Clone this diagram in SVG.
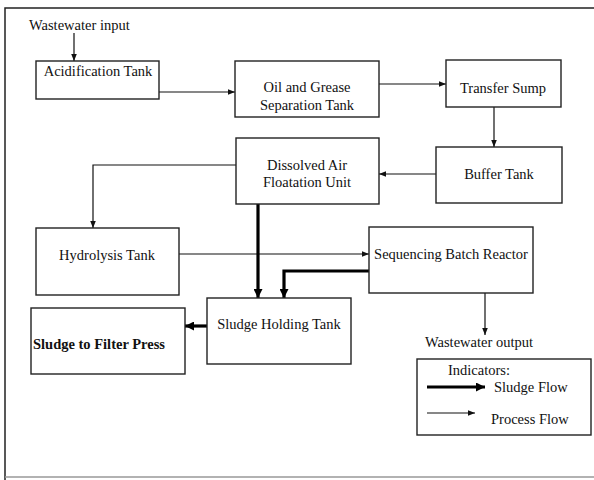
<svg xmlns="http://www.w3.org/2000/svg" width="594" height="480" viewBox="0 0 594 480">
<style>
text{font-family:"Liberation Serif","Times New Roman",serif;font-size:14.5px;fill:#111}
.box{fill:#fff;stroke:#222;stroke-width:1.4}
.thin{fill:none;stroke:#111;stroke-width:1.2}
.thick{fill:none;stroke:#000;stroke-width:3.2}
</style>
<defs>
<marker id="ah" viewBox="0 0 10 10" refX="10" refY="5" markerWidth="9" markerHeight="7" markerUnits="userSpaceOnUse" orient="auto"><path d="M0,1 L10,5 L0,9 Z" fill="#111"/></marker>
<marker id="ahb" viewBox="0 0 10 10" refX="10" refY="5" markerWidth="10" markerHeight="9" markerUnits="userSpaceOnUse" orient="auto"><path d="M0,0 L10,5 L0,10 Z" fill="#000"/></marker>
</defs>
<rect width="594" height="480" fill="#fff"/>
<path d="M594,8 H5 V480" fill="none" stroke="#222" stroke-width="1.5"/>
<line x1="5" y1="477" x2="594" y2="477" stroke="#999" stroke-width="1.5"/>

<g id="connectors">
<line class="thin" x1="74" y1="33" x2="74" y2="61" marker-end="url(#ah)"/>
<line class="thin" x1="159" y1="92" x2="235" y2="92" marker-end="url(#ah)"/>
<line class="thin" x1="379" y1="84" x2="446" y2="84" marker-end="url(#ah)"/>
<line class="thin" x1="494" y1="107" x2="494" y2="147" marker-end="url(#ah)"/>
<line class="thin" x1="436" y1="174" x2="379" y2="174" marker-end="url(#ah)"/>
<polyline class="thin" points="236,165 93,165 93,228" marker-end="url(#ah)"/>
<line class="thin" x1="179" y1="254" x2="369" y2="254" marker-end="url(#ah)"/>
<line class="thin" x1="485" y1="293" x2="485" y2="335" marker-end="url(#ah)"/>
<line class="thick" x1="258" y1="204" x2="258" y2="298" marker-end="url(#ahb)"/>
<polyline class="thick" points="369,271 284,271 284,298" marker-end="url(#ahb)"/>
<line class="thick" x1="207" y1="326" x2="185" y2="326" marker-end="url(#ahb)"/>
</g>

<g id="wastewater-input"><text x="29" y="30">Wastewater input</text></g>
<g id="acidification"><rect class="box" x="36" y="61" width="123" height="38"/><text x="98" y="76" text-anchor="middle">Acidification Tank</text></g>
<g id="oil-grease"><rect class="box" x="235" y="61" width="144" height="56"/><text x="307" y="92" text-anchor="middle">Oil and Grease</text><text x="307" y="110" text-anchor="middle">Separation Tank</text></g>
<g id="transfer-sump"><rect class="box" x="446" y="60" width="115" height="47"/><text x="503" y="93" text-anchor="middle">Transfer Sump</text></g>
<g id="buffer-tank"><rect class="box" x="436" y="147" width="126" height="56"/><text x="499" y="179" text-anchor="middle">Buffer Tank</text></g>
<g id="daf"><rect class="box" x="236" y="138" width="143" height="66"/><text x="307" y="170" text-anchor="middle">Dissolved Air</text><text x="307" y="187" text-anchor="middle">Floatation Unit</text></g>
<g id="hydrolysis"><rect class="box" x="36" y="228" width="143" height="67"/><text x="107" y="260" text-anchor="middle">Hydrolysis Tank</text></g>
<g id="sbr"><rect class="box" x="369" y="227" width="164" height="66"/><text x="451" y="259" text-anchor="middle">Sequencing Batch Reactor</text></g>
<g id="sludge-holding"><rect class="box" x="207" y="298" width="144" height="66"/><text x="279" y="329" text-anchor="middle">Sludge Holding Tank</text></g>
<g id="filter-press"><rect class="box" x="31" y="308" width="154" height="66"/><text x="33" y="349" font-weight="bold">Sludge to Filter Press</text></g>
<g id="wastewater-output"><text x="425" y="347">Wastewater output</text></g>
<g id="legend">
<rect class="box" x="417" y="359" width="174" height="76"/>
<text x="448" y="375">Indicators:</text>
<line class="thick" x1="427" y1="387" x2="485" y2="387" marker-end="url(#ahb)"/>
<text x="494" y="392">Sludge Flow</text>
<line class="thin" x1="427" y1="413" x2="475" y2="413" marker-end="url(#ah)"/>
<text x="491" y="424">Process Flow</text>
</g>
</svg>
